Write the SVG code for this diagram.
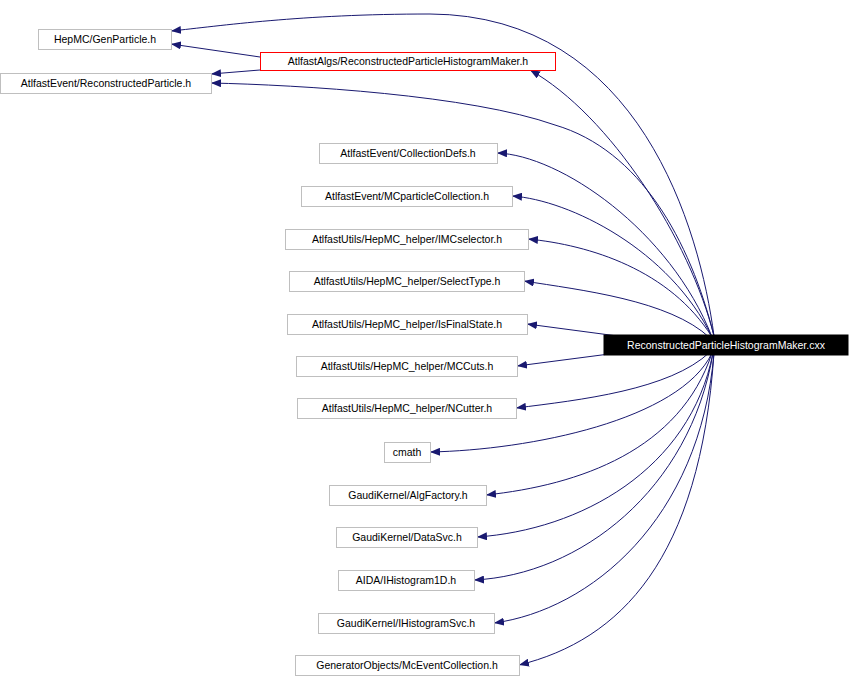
<svg xmlns="http://www.w3.org/2000/svg" width="850" height="677" viewBox="0 0 850 677">
<defs><marker id="a" markerWidth="10" markerHeight="8" refX="10" refY="4" orient="auto" markerUnits="userSpaceOnUse"><path d="M0,0L10,4L0,8z" fill="#191970"/></marker></defs>
<style>.n rect{fill:#fff;stroke:#bfbfbf}.n text{font-family:"Liberation Sans",Arial,sans-serif;font-size:10.5px;text-anchor:middle}.e path{fill:none;stroke:#191970;marker-end:url(#a)}</style>
<rect width="850" height="677" fill="#fff"/>
<g class="e">
<path d="M714,336 C700,230 640,15 430,14 C300,14 220,26 171,31"/>
<path d="M260,57 L171,44"/>
<path d="M260,70 L211,74"/>
<path d="M714,336 C690,240 610,115 530,70"/>
<path d="M714,336 C690,240 640,150 555,125 C470,95 300,85 211,83"/>
<path d="M712,337 C670,230 560,155 497,153"/>
<path d="M712,337 C670,250 570,200 512,196"/>
<path d="M712,337 C670,270 590,245 528,239"/>
<path d="M710,338 C670,300 580,290 524,281"/>
<path d="M640,339 L527,324"/>
<path d="M640,350 L517,366"/>
<path d="M710,352 C670,390 580,400 516,408"/>
<path d="M712,353 C680,420 530,450 430,452"/>
<path d="M712,353 C680,450 580,485 486,495"/>
<path d="M713,353 C690,470 580,530 477,537"/>
<path d="M713,353 C690,490 580,575 474,580"/>
<path d="M714,353 C700,520 590,610 494,623"/>
<path d="M714,353 C700,560 620,640 519,665"/>
</g>
<g class="n" id="n1"><rect x="38.5" y="29.5" width="133" height="20"/><text x="105" y="43">HepMC/GenParticle.h</text></g>
<g class="n" id="n2"><rect x="260.5" y="52.5" width="295" height="18" style="stroke:#f00"/><text x="408" y="65">AtlfastAlgs/ReconstructedParticleHistogramMaker.h</text></g>
<g class="n" id="n3"><rect x="0.5" y="73.5" width="211" height="20"/><text x="106" y="87">AtlfastEvent/ReconstructedParticle.h</text></g>
<g class="n" id="n4"><rect x="319.5" y="143.5" width="178" height="20"/><text x="408" y="157">AtlfastEvent/CollectionDefs.h</text></g>
<g class="n" id="n5"><rect x="301.5" y="186.5" width="211" height="20"/><text x="407" y="200">AtlfastEvent/MCparticleCollection.h</text></g>
<g class="n" id="n6"><rect x="285.5" y="229.5" width="243" height="20"/><text x="407" y="243">AtlfastUtils/HepMC_helper/IMCselector.h</text></g>
<g class="n" id="n7"><rect x="289.5" y="271.5" width="235" height="20"/><text x="407" y="285">AtlfastUtils/HepMC_helper/SelectType.h</text></g>
<g class="n" id="n8"><rect x="287.5" y="314.5" width="240" height="20"/><text x="407" y="328">AtlfastUtils/HepMC_helper/IsFinalState.h</text></g>
<g class="n" id="n9"><rect x="296.5" y="356.5" width="221" height="20"/><text x="407" y="370">AtlfastUtils/HepMC_helper/MCCuts.h</text></g>
<g class="n" id="n10"><rect x="297.5" y="398.5" width="219" height="20"/><text x="407" y="412">AtlfastUtils/HepMC_helper/NCutter.h</text></g>
<g class="n" id="n11"><rect x="384.5" y="442.5" width="46" height="20"/><text x="407" y="456">cmath</text></g>
<g class="n" id="n12"><rect x="329.5" y="485.5" width="157" height="20"/><text x="408" y="499">GaudiKernel/AlgFactory.h</text></g>
<g class="n" id="n13"><rect x="336.5" y="527.5" width="141" height="20"/><text x="407" y="541">GaudiKernel/DataSvc.h</text></g>
<g class="n" id="n14"><rect x="338.5" y="570.5" width="136" height="20"/><text x="406" y="584">AIDA/IHistogram1D.h</text></g>
<g class="n" id="n15"><rect x="318.5" y="613.5" width="176" height="20"/><text x="406" y="627">GaudiKernel/IHistogramSvc.h</text></g>
<g class="n" id="n16"><rect x="295.5" y="655.5" width="224" height="20"/><text x="407" y="669">GeneratorObjects/McEventCollection.h</text></g>
<g class="n" id="main"><rect x="604" y="335" width="244" height="20" style="fill:#000;stroke:#000"/><text x="726" y="349" style="fill:#fff">ReconstructedParticleHistogramMaker.cxx</text></g>
</svg>
